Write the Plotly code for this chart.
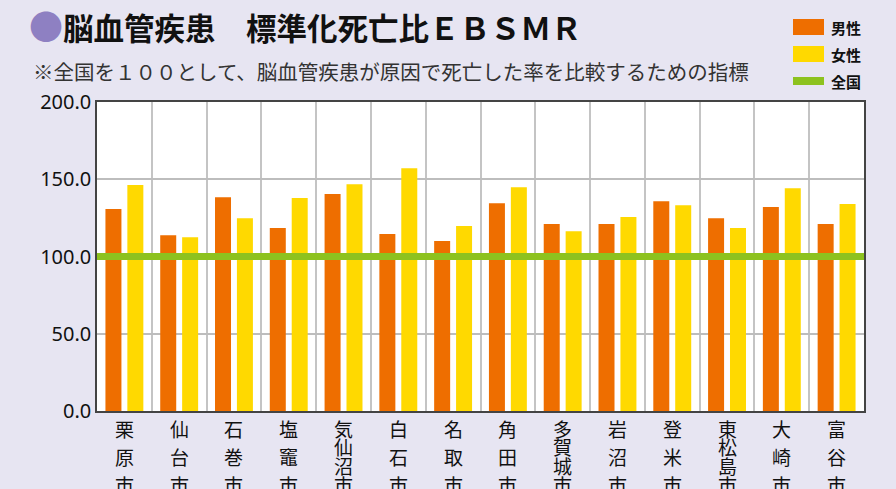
import plotly.graph_objects as go

cities = ["栗原市", "仙台市", "石巻市", "塩竈市", "気仙沼市", "白石市", "名取市",
          "角田市", "多賀城市", "岩沼市", "登米市", "東松島市", "大崎市", "富谷市"]
male = [130.7, 113.8, 138.4, 118.4, 140.4, 114.5, 110.0,
        134.5, 121.0, 121.0, 135.8, 124.8, 132.0, 121.0]
female = [146.2, 112.5, 124.8, 137.8, 146.8, 157.2, 119.7,
          144.9, 116.4, 125.5, 133.2, 118.4, 144.2, 133.9]
national = 100.0
y_ticks = [0, 50, 100, 150, 200]
legend_names = ["男性", "女性", "全国"]

title_text = "脳血管疾患　標準化死亡比ＥＢＳＭＲ"
subtitle_text = "※全国を１００として、脳血管疾患が原因で死亡した率を比較するための指標"

ORANGE = "#EE6E00"
YELLOW = "#FFD900"
GREEN = "#8DC21F"
BG = "#E7E5F2"
FONT = "Noto Sans CJK JP"

# plot-area geometry (pixels)
L, R, T, B = 97, 864, 102, 411
W, H = R - L, B - T


def px(xp):
    return (xp - L) / W


def py(yp):
    return (B - yp) / H


fig = go.Figure()
fig.add_trace(go.Bar(x=cities, y=male, name=legend_names[0], marker_color=ORANGE,
                     marker_line_width=0, showlegend=False))
fig.add_trace(go.Bar(x=cities, y=female, name=legend_names[1], marker_color=YELLOW,
                     marker_line_width=0, showlegend=False))

shapes = [dict(type="line", xref="paper", x0=0, x1=1, yref="y", y0=national, y1=national,
               line=dict(color=GREEN, width=7), layer="above")]

annotations = []
# vertical stacked x labels
for c in cities:
    chars = list(c)
    n = len(chars)
    step = 56.0 / (n - 1)
    for k, ch in enumerate(chars):
        annotations.append(dict(
            x=c, xref="x", y=0, yref="paper", text=ch, showarrow=False,
            yanchor="middle", xanchor="center", yshift=-(17 + k * step),
            font=dict(family=FONT, size=19, color="#111"),
        ))

# subtitle
annotations.append(dict(
    x=px(31), xref="paper", y=py(71), yref="paper", text=subtitle_text, showarrow=False,
    xanchor="left", yanchor="middle",
    font=dict(family=FONT, size=20.5, color="#333"),
))

# custom legend
leg_colors = [ORANGE, YELLOW, GREEN]
leg_rows = [27, 54, 81]
for name, col, yc in zip(legend_names, leg_colors, leg_rows):
    hh = 8 if col == GREEN else 16
    shapes.append(dict(type="rect", xref="paper", yref="paper",
                       x0=px(793), x1=px(824), y0=py(yc + hh / 2), y1=py(yc - hh / 2),
                       fillcolor=col, line=dict(width=0), layer="above"))
    annotations.append(dict(
        x=px(829), xref="paper", y=py(yc), yref="paper", text="<b>" + name + "</b>",
        showarrow=False, xanchor="left", yanchor="middle",
        font=dict(family=FONT, size=15, color="#111"),
    ))

fig.update_layout(
    width=896, height=489,
    paper_bgcolor=BG, plot_bgcolor="white",
    margin=dict(l=L, r=896 - R, t=T, b=489 - B),
    barmode="group", bargap=0.2, bargroupgap=0.27,
    title=dict(
        text="<span style='color:#8E80C2;font-size:34px'>●</span><b>" + title_text + "</b>",
        x=29 / 896, xanchor="left", xref="container",
        y=1 - 29 / 489, yanchor="middle", yref="container",
        font=dict(family=FONT, size=30.5, color="#111"),
    ),
    showlegend=False,
    shapes=shapes,
    annotations=annotations,
)

fig.update_xaxes(
    type="category", showticklabels=False, showgrid=True, tickson="boundaries",
    gridcolor="#C4C4C4", gridwidth=2, ticks="",
    showline=True, linecolor="#444", linewidth=1.5, mirror=True,
)
fig.update_yaxes(
    range=[0, 200], tickvals=y_ticks, tickformat=".1f",
    showgrid=True, gridcolor="#BDBDBD", gridwidth=1.5,
    showline=True, linecolor="#444", linewidth=1.5, mirror=True,
    zeroline=False, ticks="",
    tickfont=dict(family="Noto Sans", size=20, color="#111"),
)

fig.write_html("out.html", config={"displayModeBar": False},
               post_script="document.body.style.margin='0';document.body.style.overflow='hidden';")
